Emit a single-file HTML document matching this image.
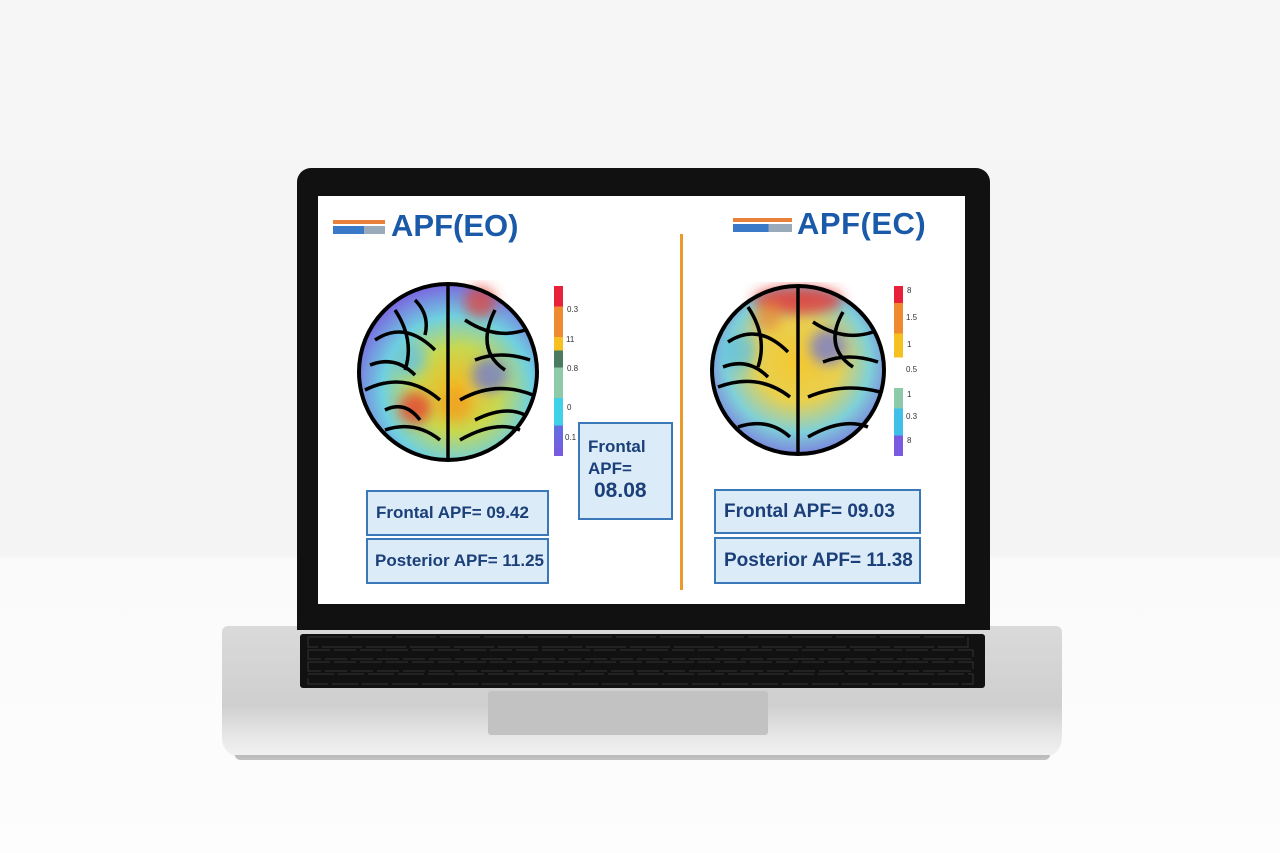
<!DOCTYPE html>
<html><head><style>
body{margin:0;width:1280px;height:853px;overflow:hidden;background:linear-gradient(#f6f6f6 0,#f4f4f4 555px,#fafafa 560px,#fdfdfd 853px);font-family:"Liberation Sans",sans-serif;position:relative}
.a{position:absolute}
.box{position:absolute;background:#dcebf8;border:2px solid #3a78b8;color:#1b3f78;font-weight:bold;font-size:18px;box-sizing:border-box;padding-left:8px;display:flex;align-items:center}
.h{position:absolute;color:#1a5aa8;font-weight:bold;font-size:31px}
.cb{position:absolute;width:9px;height:170px}
.lab{position:absolute;font-size:8px;color:#333}
</style></head><body>
<!-- base -->
<div class="a" style="left:222px;top:626px;width:840px;height:132px;border-radius:6px 6px 20px 20px;background:linear-gradient(#dadada,#cfcfcf 60%,#e8e8e8 85%,#f2f2f2)"></div>
<div class="a" style="left:235px;top:755px;width:815px;height:5px;background:#9a9a9a;border-radius:0 0 20px 20px;opacity:.6"></div>
<div class="a" style="left:300px;top:634px;width:685px;height:54px;background:#111;border-radius:3px"></div>
<svg class="a" style="left:300px;top:634px" width="685" height="54">
<g fill="#2a2a2a">
<rect x="8" y="3" width="660" height="10" fill="none" stroke="#333" stroke-dasharray="40 4"/>
<rect x="8" y="16" width="665" height="9" fill="none" stroke="#333" stroke-dasharray="22 4"/>
<rect x="8" y="28" width="665" height="9" fill="none" stroke="#333" stroke-dasharray="22 4"/>
<rect x="8" y="40" width="665" height="10" fill="none" stroke="#333" stroke-dasharray="26 4"/>
</g></svg>
<div class="a" style="left:488px;top:691px;width:280px;height:44px;background:#c2c2c2;border-radius:3px"></div>
<!-- lid -->
<div class="a" style="left:297px;top:168px;width:693px;height:462px;background:#111;border-radius:14px 14px 0 0"></div>
<div class="a" style="left:318px;top:196px;width:647px;height:408px;background:#fff"></div>
<!-- headers -->
<div class="a" style="left:333px;top:220px;width:52px;height:4px;background:#e8823a"></div>
<div class="a" style="left:333px;top:226px;width:52px;height:8px;background:linear-gradient(90deg,#3a78c8 60%,#9ab 60%)"></div>
<div class="h" style="left:391px;top:208px">APF(EO)</div>
<div class="a" style="left:733px;top:218px;width:59px;height:4px;background:#e8823a"></div>
<div class="a" style="left:733px;top:224px;width:59px;height:8px;background:linear-gradient(90deg,#3a78c8 60%,#9ab 60%)"></div>
<div class="h" style="left:797px;top:206px;letter-spacing:0.5px">APF(EC)</div>
<div class="a" style="left:680px;top:234px;width:3px;height:356px;background:#e89a2a"></div>
<!-- brains -->
<svg class="a" style="left:355px;top:280px" width="190" height="185">
<defs><radialGradient id="g1" cx="55%" cy="60%" r="60%"><stop offset="0" stop-color="#f5b820"/><stop offset=".4" stop-color="#c8d850"/><stop offset=".7" stop-color="#6fd0e0"/><stop offset="1" stop-color="#7a6ae0"/></radialGradient>
<filter id="b"><feGaussianBlur stdDeviation="6"/></filter></defs>
<ellipse cx="93" cy="92" rx="89" ry="88" fill="url(#g1)"/>
<g filter="url(#b)">
<circle cx="60" cy="128" r="16" fill="#e84030" opacity=".8"/><circle cx="125" cy="22" r="16" fill="#e84030" opacity=".7"/><circle cx="135" cy="95" r="18" fill="#6a70e0" opacity=".7"/><circle cx="55" cy="80" r="16" fill="#60c0e8" opacity=".7"/><circle cx="100" cy="125" r="16" fill="#f0a020" opacity=".8"/></g>
<ellipse cx="93" cy="92" rx="89" ry="88" fill="none" stroke="#000" stroke-width="4"/>
<path d="M93 5 V180 M20 60 Q50 40 80 70 M110 40 Q140 60 170 50 M10 110 Q50 90 85 120 M105 120 Q140 100 178 115 M30 150 Q60 140 85 160 M105 160 Q140 140 165 150 M40 30 Q60 60 50 90 M140 30 Q120 70 150 90 M15 85 Q40 75 60 95 M120 80 Q145 70 175 80 M60 20 Q75 35 70 55 M30 130 Q50 120 65 140 M120 140 Q150 125 170 135" stroke="#000" stroke-width="3.5" fill="none"/>
</svg>
<svg class="a" style="left:708px;top:282px" width="182" height="176">
<defs><radialGradient id="g2" cx="50%" cy="45%" r="60%"><stop offset="0" stop-color="#f5c830"/><stop offset=".4" stop-color="#e8d050"/><stop offset=".7" stop-color="#7fd0d8"/><stop offset="1" stop-color="#7a6ae0"/></radialGradient></defs>
<ellipse cx="90" cy="88" rx="86" ry="84" fill="url(#g2)"/>
<g filter="url(#b)">
<ellipse cx="90" cy="18" rx="45" ry="14" fill="#e83030" opacity=".8"/><circle cx="120" cy="65" r="18" fill="#6a70e0" opacity=".7"/><circle cx="30" cy="70" r="18" fill="#60c0e0" opacity=".7"/><circle cx="60" cy="35" r="14" fill="#f08a30" opacity=".7"/></g>
<ellipse cx="90" cy="88" rx="86" ry="84" fill="none" stroke="#000" stroke-width="4"/>
<path d="M90 5 V172 M20 60 Q50 40 80 70 M105 40 Q135 60 165 50 M10 105 Q50 90 82 115 M100 115 Q135 100 172 110 M30 145 Q60 135 82 155 M100 155 Q135 135 160 145 M40 25 Q60 55 50 85 M135 30 Q115 65 145 85 M15 85 Q40 75 60 95 M115 80 Q140 70 170 80" stroke="#000" stroke-width="3.5" fill="none"/>
</svg>
<!-- colorbars -->
<div class="cb" style="left:554px;top:286px;background:linear-gradient(#e8203a 0,#e8203a 12%,#f08a30 12%,#f08a30 30%,#f5c020 30%,#f5c020 38%,#4a7a60 38%,#4a7a60 48%,#8ccaa8 48%,#8ccaa8 66%,#40d0e8 66%,#40d0e8 82%,#6070e0 82%,#7a5ae0 100%)"></div>
<div class="lab" style="left:567px;top:305px">0.3</div><div class="lab" style="left:566px;top:335px">11</div><div class="lab" style="left:567px;top:364px">0.8</div><div class="lab" style="left:567px;top:403px">0</div><div class="lab" style="left:565px;top:433px">0.1</div>
<div class="cb" style="left:894px;top:286px;background:linear-gradient(#e8203a 0,#e8203a 10%,#f08a30 10%,#f08a30 28%,#f5c020 28%,#f5c020 42%,#fff 42%,#fff 60%,#8ccaa8 60%,#8ccaa8 72%,#40c0e8 72%,#40c0e8 88%,#7a5ae0 88%)"></div>
<div class="lab" style="left:907px;top:286px">8</div><div class="lab" style="left:906px;top:313px">1.5</div><div class="lab" style="left:907px;top:340px">1</div><div class="lab" style="left:906px;top:365px">0.5</div><div class="lab" style="left:907px;top:390px">1</div><div class="lab" style="left:906px;top:412px">0.3</div><div class="lab" style="left:907px;top:436px">8</div>
<!-- boxes -->
<div class="box" style="left:366px;top:490px;width:183px;height:46px;font-size:17px">Frontal APF= 09.42</div>
<div class="box" style="left:366px;top:538px;width:183px;height:46px;font-size:17px;padding-left:7px">Posterior APF= 11.25</div>
<div class="box" style="left:578px;top:422px;width:95px;height:98px;display:block;padding-top:12px;font-size:17px;line-height:22px">Frontal<br>APF=<br><span style="font-size:21px;padding-left:6px">08.08</span></div>
<div class="box" style="left:714px;top:489px;width:207px;height:45px;font-size:19px">Frontal APF= 09.03</div>
<div class="box" style="left:714px;top:537px;width:207px;height:47px;font-size:19px">Posterior APF= 11.38</div>
</body></html>
